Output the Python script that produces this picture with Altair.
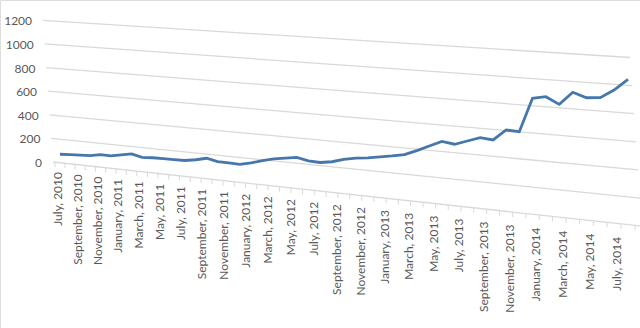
import altair as alt
import pandas as pd

# ---------------- data ----------------
month_names = ["January", "February", "March", "April", "May", "June", "July",
               "August", "September", "October", "November", "December"]
# categories: July 2010 ... July 2014 (monthly)
months = [f"{month_names[(6 + k) % 12]}, {2010 + (6 + k) // 12}" for k in range(49)]

values = [72, 78, 83, 88, 104, 103, 120, 137, 118, 124, 126, 127, 129, 144, 165,
          147, 147, 143, 164, 192, 215, 230, 245, 226, 223, 238, 265, 285, 296,
          312, 328, 348, 387, 430, 473, 461, 494, 527, 519, 601, 597, 850, 869,
          821, 916, 884, 892, 954, 1038]

y_ticks = [0, 200, 400, 600, 800, 1000, 1200]

# ---------------- perspective projection (3-D look) ----------------
DEPTH = 0.0032315   # perspective foreshortening per category
AX, X0 = 9.804, 60.0
DY, EY, Y0 = 0.563, 0.1183, 162.76
SLANT = 0.00835     # wall edge slant
LAX, LX0, LY0, LSLOPE = 9.65, 58.0, 172.0, 0.116   # category label plane


def px(i, v, slant=0.0):
    return f"({AX}*({i}) + {X0} - {slant}*({v})) / (1 - {DEPTH}*({i}))"


def py(i, v):
    return f"({Y0} + {DY}*({i}) - {EY}*({v})) / (1 - {DEPTH}*({i}))"


FONT = "Lato"
TXT = "#595959"

xs = alt.Scale(domain=[0, 640], range=[0, 640], nice=False, zero=False)
ys = alt.Scale(domain=[0, 328], range=[0, 328], nice=False, zero=False)

df_line = pd.DataFrame({"i": list(range(len(values))), "month": months, "value": values})
df_grid = pd.DataFrame({"v": y_ticks, "label": [str(t) for t in y_ticks]})
df_ticks = pd.DataFrame({"k": [k - 0.5 for k in range(len(values) + 1)]})
df_lab = pd.DataFrame({"i": list(range(0, len(values), 2)),
                       "month": months[::2]})

grid = alt.Chart(df_grid).transform_calculate(
    x1=px(-0.7, "datum.v", SLANT), y1=py(-0.7, "datum.v"),
    x2=px(49, "datum.v", SLANT), y2=py(49, "datum.v"),
).mark_rule(color="#d9d9d9", strokeWidth=1.3, clip=True).encode(
    x=alt.X("x1:Q", scale=xs, axis=None), y=alt.Y("y1:Q", scale=ys, axis=None),
    x2="x2:Q", y2="y2:Q",
)

ylabels = alt.Chart(df_grid).transform_calculate(
    x1=px(-0.7, "datum.v", SLANT), y1=py(-0.7, "datum.v"),
).mark_text(align="right", baseline="middle", dx=-11, dy=1, font=FONT,
            fontSize=12, color=TXT).encode(
    x=alt.X("x1:Q", scale=xs, axis=None), y=alt.Y("y1:Q", scale=ys, axis=None),
    text="label:N",
)

ticks = alt.Chart(df_ticks).transform_calculate(
    tx=px("datum.k", 0), ty=py("datum.k", 0),
).transform_calculate(ty2="datum.ty + 5").mark_rule(
    color="#d9d9d9", strokeWidth=1).encode(
    x=alt.X("tx:Q", scale=xs, axis=None), y=alt.Y("ty:Q", scale=ys, axis=None),
    y2="ty2:Q",
)

xlabels = alt.Chart(df_lab).transform_calculate(
    lx=f"({LAX}*datum.i + {LX0}) / (1 - {DEPTH}*datum.i)",
).transform_calculate(
    ly=f"{LY0} + {LSLOPE}*(datum.lx - {LX0})",
).mark_text(angle=270, align="right", baseline="middle", font=FONT,
            fontSize=12, color=TXT).encode(
    x=alt.X("lx:Q", scale=xs, axis=None), y=alt.Y("ly:Q", scale=ys, axis=None),
    text="month:N",
)

line = alt.Chart(df_line).transform_calculate(
    sx=px("datum.i", "datum.value"), sy=py("datum.i", "datum.value"),
).mark_line(color="#4677ab", strokeWidth=2.8).encode(
    x=alt.X("sx:Q", scale=xs, axis=None), y=alt.Y("sy:Q", scale=ys, axis=None),
    order="i:Q",
)

chart = alt.layer(grid, ticks, ylabels, xlabels, line).properties(
    width=640, height=328, autosize="none", padding=0,
).configure_view(stroke=None).configure(background="white")

chart.save("out.html", embed_options={"renderer": "svg", "actions": False})
